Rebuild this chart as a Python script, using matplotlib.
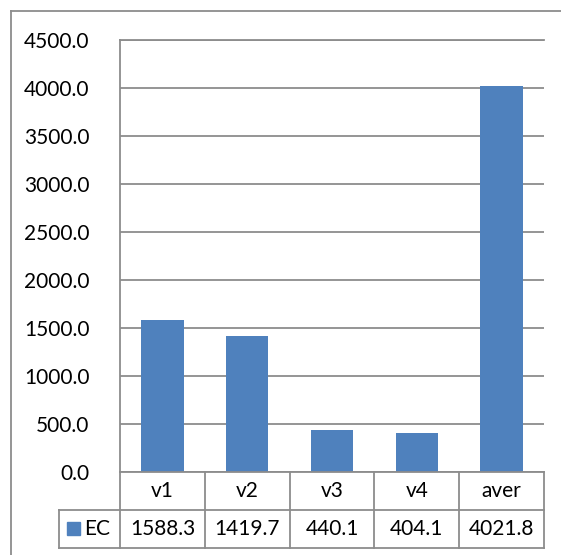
import matplotlib.pyplot as plt
from matplotlib.patches import Rectangle
from matplotlib.lines import Line2D

categories = ["v1", "v2", "v3", "v4", "aver"]
ec_values = [1588.3, 1419.7, 440.1, 404.1, 4021.8]
series_name = "EC"
y_ticks = [0, 500, 1000, 1500, 2000, 2500, 3000, 3500, 4000, 4500]

plt.rcParams['font.family'] = ['Lato', 'DejaVu Sans']
W, H = 561, 555
fig = plt.figure(figsize=(W / 100, H / 100), dpi=100)

bar_color = '#4F81BD'
grid_color = '#8C8C8C'

# outer chart border (only top and left are inside the picture)
fig.lines.append(Line2D([11 / W, 1.0], [1 - 11 / H, 1 - 11 / H], transform=fig.transFigure,
                        color=grid_color, lw=1.3))
fig.lines.append(Line2D([11 / W, 11 / W], [0.0, 1 - 11 / H], transform=fig.transFigure,
                        color=grid_color, lw=1.3))

# main plot area
ax = fig.add_axes([120 / W, 1 - 472 / H, (544 - 120) / W, (472 - 40) / H])
x = range(len(categories))
ax.bar(x, ec_values, width=0.5, color=bar_color, zorder=3)
ax.set_xlim(-0.5, len(categories) - 0.5)
ax.set_ylim(0, 4500)
ax.set_yticks(y_ticks)
ax.set_yticklabels([f"{v:.1f}" for v in y_ticks], fontsize=15)
ax.tick_params(axis='y', length=0, pad=22)
ax.set_xticks([])
ax.yaxis.grid(True, color=grid_color, lw=1.3, zorder=0)
for s in ['right', 'bottom']:
    ax.spines[s].set_visible(False)
ax.spines['top'].set_color(grid_color)
ax.spines['top'].set_linewidth(1.3)
ax.spines['left'].set_color(grid_color)
ax.spines['left'].set_linewidth(1.3)

# data table below
leg_w = (120 - 59) / ((544 - 120) / len(categories))
tax = fig.add_axes([59 / W, 1 - 548 / H, (544 - 59) / W, (548 - 472) / H])
tax.set_xlim(-0.5 - leg_w, len(categories) - 0.5)
tax.set_ylim(0, 2)
tax.axis('off')
lk = dict(color=grid_color, lw=1.3, clip_on=False)
n = len(categories)
tax.plot([-0.5, n - 0.5], [2, 2], **lk)
tax.plot([-0.5 - leg_w, n - 0.5], [1, 1], **lk)
tax.plot([-0.5 - leg_w, n - 0.5], [0, 0], **lk)
tax.plot([-0.5 - leg_w, -0.5 - leg_w], [0, 1], **lk)
for i in range(n + 1):
    tax.plot([i - 0.5, i - 0.5], [0, 2], **lk)
for i, (c, v) in enumerate(zip(categories, ec_values)):
    tax.text(i, 1.5, c, ha='center', va='center', fontsize=15)
    tax.text(i, 0.5, f"{v:.1f}", ha='center', va='center', fontsize=15)
tax.add_patch(Rectangle((-0.5 - leg_w + 0.1, 0.33), 0.15, 0.36, color=bar_color, clip_on=False))
tax.text(-0.5 - leg_w + 0.3, 0.5, series_name, ha='left', va='center', fontsize=15)

fig.savefig('out.png', dpi=100)
